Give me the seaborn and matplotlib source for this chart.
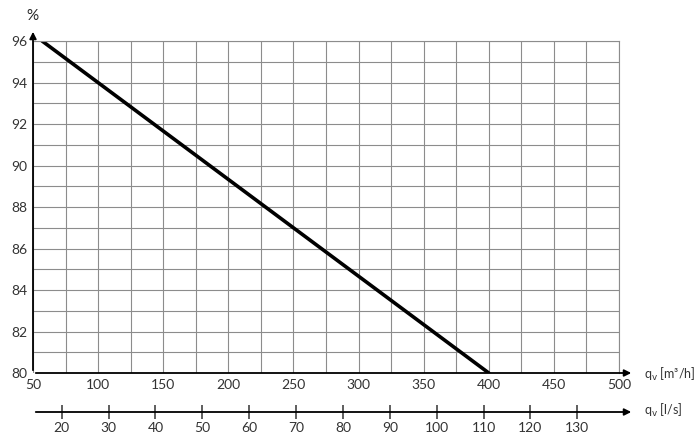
import numpy as np
import pandas as pd
import matplotlib
matplotlib.use("Agg")
import matplotlib.pyplot as plt
import seaborn as sns

# data
flow_m3h = [57, 400]
efficiency = [96, 80]
x_ticks = [50, 100, 150, 200, 250, 300, 350, 400, 450, 500]
y_ticks = [80, 82, 84, 86, 88, 90, 92, 94, 96]
ls_ticks = [20, 30, 40, 50, 60, 70, 80, 90, 100, 110, 120, 130]

sns.set_style("white")
plt.rcParams["font.family"] = ["Lato", "DejaVu Sans"]

fig = plt.figure(figsize=(7, 4.4), dpi=100)
ax = fig.add_axes([33 / 700, 1 - 373 / 440, 586 / 700, 332 / 440])

df = pd.DataFrame({"q": flow_m3h, "eta": efficiency})
sns.lineplot(data=df, x="q", y="eta", color="black", linewidth=2.6, ax=ax)

ax.set_xlim(50, 500)
ax.set_ylim(80, 96)
ax.set_xticks(x_ticks)
ax.set_xticks(np.arange(75, 500, 50), minor=True)
ax.set_yticks(y_ticks)
ax.set_yticks(np.arange(81, 96, 2), minor=True)
ax.grid(True, which="both", color="#8c8c8c", linewidth=0.8)
ax.tick_params(which="both", length=0, labelsize=10, colors="#333333")
ax.tick_params(axis="x", pad=4)
ax.tick_params(axis="y", pad=4)
ax.set_xlabel("")
ax.set_ylabel("")
for s in ax.spines.values():
    s.set_visible(False)
ax.spines["top"].set_visible(True)
ax.spines["top"].set_color("#8c8c8c")
ax.spines["right"].set_visible(True)
ax.spines["right"].set_color("#8c8c8c")

# axis lines with arrows
arrow = dict(arrowstyle="-|>", color="black", lw=1.3, mutation_scale=10)
ax.annotate("", xy=(634 / 700, 1 - 373 / 440), xytext=(33 / 700, 1 - 373 / 440),
            xycoords="figure fraction", arrowprops=arrow)
ax.annotate("", xy=(33 / 700, 1 - 29 / 440), xytext=(33 / 700, 1 - 373 / 440),
            xycoords="figure fraction", arrowprops=arrow)
fig.text(32 / 700, 1 - 16 / 440, "%", ha="center", va="center", fontsize=11)
fig.text(644 / 700, 1 - 374 / 440, "q$_\\mathrm{v}$ [m³/h]", ha="left", va="center",
         fontsize=9, color="#333333")

# second axis in l/s
sec = ax.secondary_xaxis(-39 / 332, functions=(lambda x: x / 3.6, lambda x: x * 3.6))
sec.set_xticks(ls_ticks)
sec.tick_params(direction="inout", length=10, width=1.1, labelsize=10,
                colors="#333333", pad=2)
sec.spines["bottom"].set_visible(False)
ax.annotate("", xy=(634 / 700, 1 - 412 / 440), xytext=(33 / 700, 1 - 412 / 440),
            xycoords="figure fraction", arrowprops=arrow)
fig.text(644 / 700, 1 - 410 / 440, "q$_\\mathrm{v}$ [l/s]", ha="left", va="center",
         fontsize=9, color="#333333")

fig.savefig("out.png", dpi=100)
